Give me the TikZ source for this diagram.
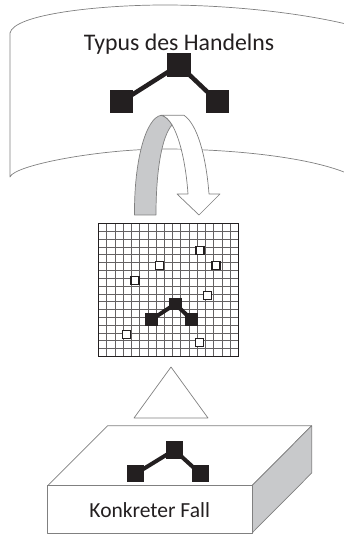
\documentclass[tikz,border=0pt]{standalone}
\usepackage{fontspec}
\setmainfont{Carlito}
\definecolor{txt}{HTML}{231F20}
\definecolor{lgray}{HTML}{C8C9CB}
\definecolor{lline}{HTML}{808080}
\tikzset{
  thinline/.style={draw=lline,line width=0.7pt,line join=round},
  bsq/.style={rectangle,fill=txt,draw=none,inner sep=0pt,minimum width=#1,minimum height=#1},
  wsq/.style={rectangle,fill=white,draw=txt,line width=1.5pt,inner sep=0pt,minimum width=8pt,minimum height=8pt},
  link/.style={draw=txt,line cap=butt},
  gridline/.style={draw=txt!70,line width=0.8pt},
  lbl/.style={text=txt,inner sep=0pt}
}
\begin{document}
\begin{tikzpicture}[x=1pt,y=-1pt]
\useasboundingbox (0,0) rectangle (344,534);
% upper cylinder
\draw[thinline] (344,23.5) .. controls (290,11) and (220,5) .. (165,5) .. controls (100,5) and (14,14) .. (10,33) -- (10,177) .. controls (14,165) and (100,149) .. (165,149) .. controls (220,149) and (300,155) .. (344,172);
\node[lbl,font=\fontsize{23.8}{25}\selectfont] (typ) at (179,44) {Typus des Handelns};
\node[bsq=23.5pt] (a1) at (179,65) {};
\node[bsq=23.5pt] (a2) at (121.5,101.5) {};
\node[bsq=23.5pt] (a3) at (217.5,101.5) {};
\draw[link,line width=4.5pt] (a2.center) -- (a1.center) -- (a3.center);
% curved arrow
\fill[white,thinline] (161,115.3) -- (184,115.3) .. controls (197,124) and (206,155) .. (209,194) -- (220,194) -- (199,215) -- (177,194) -- (188,194) .. controls (186,165) and (180,138) .. (172,125) .. controls (169,120) and (165,116) .. (161,115.3) -- cycle;
\fill[lgray,thinline] (161,115.3) .. controls (146,118) and (134,160) .. (134.5,215) -- (156,215) .. controls (156,170) and (162,136) .. (172,125) .. controls (169,120) and (165,116) .. (161,115.3) -- cycle;
% grid
\foreach \i in {0,...,17} {
  \draw[gridline] ({98.5+\i*140/17},223.5) -- ({98.5+\i*140/17},356.5);
  \draw[gridline] (98.5,{223.5+\i*133/17}) -- (238.5,{223.5+\i*133/17});
}
\draw[draw=txt,line width=1.8pt,fill=none] (98.5,223.5) rectangle (238.5,356.5);
\foreach \n/\x/\y in {s1/200/250.3,s2/159.3/265.3,s3/216/265.3,s4/135/280.7,s5/207.7/295.7,s6/126.7/334.7,s7/199.7/342.3}
  \node[wsq] (\n) at (\x,\y) {};
\node[bsq=12.5pt] (b1) at (175.3,304) {};
\node[bsq=12.5pt] (b2) at (151.3,319.7) {};
\node[bsq=12.5pt] (b3) at (191.7,319.7) {};
\draw[link,line width=4pt] (b2.center) -- (b1.center) -- (b3.center);
% triangle
\draw[thinline,fill=white] (171,367) -- (134,418) -- (208,418) -- cycle;
% box
\fill[white,thinline] (47.7,485.7) -- (107.7,425.7) -- (311.7,425.7) -- (252,485.7) -- cycle;
\fill[lgray,thinline] (252,485.7) -- (311.7,425.7) -- (311.7,473) -- (252,533) -- cycle;
\fill[white,thinline] (47.7,485.7) rectangle (252,533);
\node[lbl,font=\fontsize{21.5}{23}\selectfont] (fall) at (149.7,510.5) {Konkreter Fall};
\node[bsq=17.5pt] (c1) at (174.3,450) {};
\node[bsq=17.5pt] (c2) at (135.7,473.7) {};
\node[bsq=17.5pt] (c3) at (200.3,473.7) {};
\draw[link,line width=4pt] (c2.center) -- (c1.center) -- (c3.center);
\end{tikzpicture}
\end{document}
